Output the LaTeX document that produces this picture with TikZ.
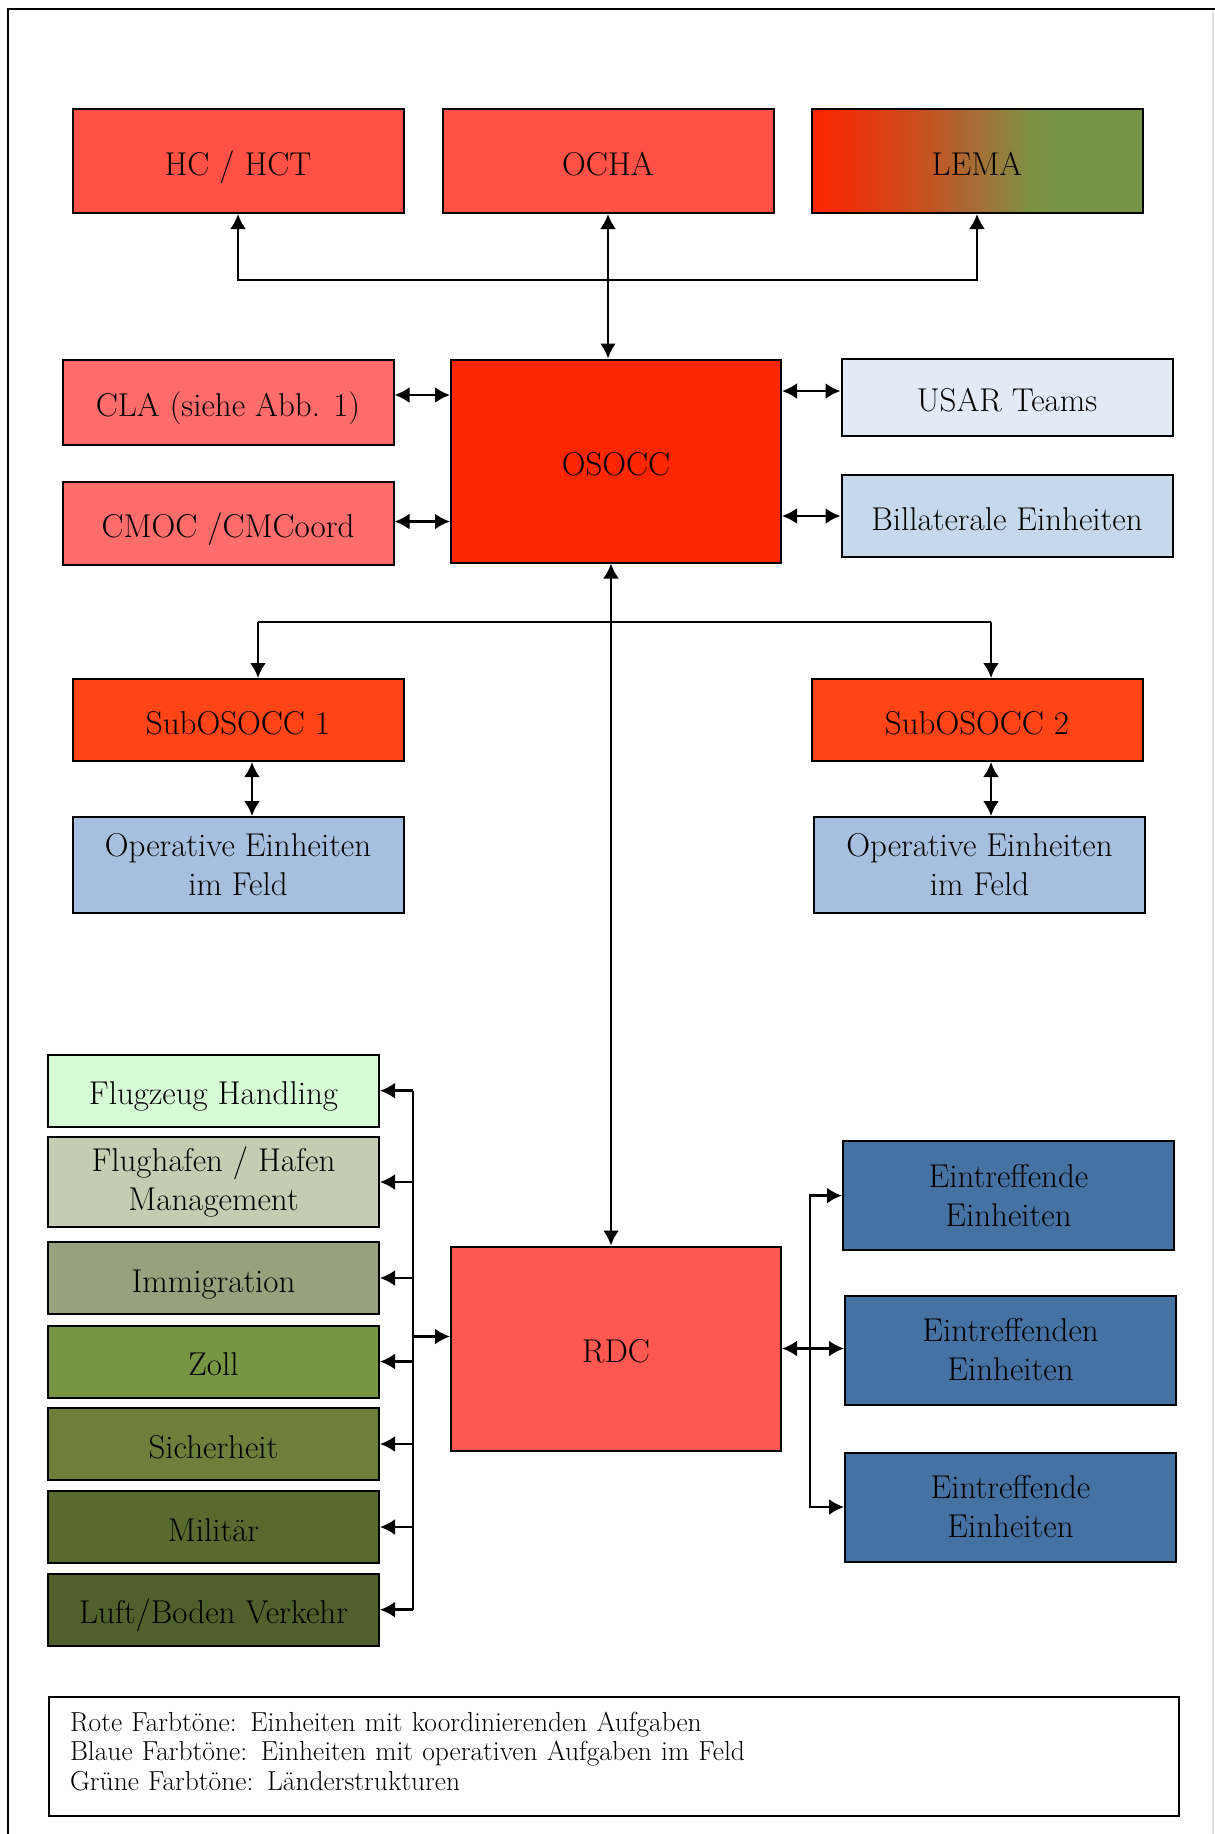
\documentclass[tikz,border=0pt]{standalone}
\usepackage{fontspec}
\usetikzlibrary{arrows.meta}

\definecolor{hcred}{RGB}{255,81,70}
\definecolor{osoccred}{RGB}{255,38,0}
\definecolor{clared}{RGB}{255,108,108}
\definecolor{subred}{RGB}{255,68,24}
\definecolor{rdcred}{RGB}{255,87,82}
\definecolor{usarblue}{RGB}{226,234,245}
\definecolor{bilatblue}{RGB}{198,216,236}
\definecolor{opblue}{RGB}{167,191,222}
\definecolor{einblue}{RGB}{70,114,163}
\definecolor{flugg}{RGB}{213,252,213}
\definecolor{hafeng}{RGB}{196,205,177}
\definecolor{immig}{RGB}{152,161,125}
\definecolor{zollg}{RGB}{120,149,68}
\definecolor{sichg}{RGB}{108,128,60}
\definecolor{milg}{RGB}{88,106,48}
\definecolor{luftg}{RGB}{80,96,44}
\definecolor{lemaA}{RGB}{255,36,0}
\definecolor{lemaB}{RGB}{235,50,10}
\definecolor{lemaC}{RGB}{200,80,30}
\definecolor{lemaM}{RGB}{165,110,55}
\definecolor{lemaE}{RGB}{125,145,68}
\definecolor{lemaD}{RGB}{119,147,69}

\pgfdeclarehorizontalshading{lemashade}{100bp}{color(0bp)=(lemaA); color(25bp)=(lemaA); color(31bp)=(lemaB); color(41.5bp)=(lemaC); color(50bp)=(lemaM); color(58bp)=(lemaE); color(63bp)=(lemaD); color(100bp)=(lemaD)}

\tikzset{
    box/.style={draw, rectangle, line width=2pt, minimum width=331pt, inner sep=0pt, align=center, font=\fontsize{33}{39}\selectfont},
    oneline/.style={box, text height=32pt, text depth=4pt},
    every path/.style={line width=2.6pt},
    >={Latex[length=15pt,width=16pt]}
}

\begin{document}
\begin{tikzpicture}[x=1pt, y=-1pt]
    \useasboundingbox (0,0) rectangle (1215,1834);
    % frame
    \draw[line width=2.6pt] (1215,9) -- (8,9) -- (8,1834);
    \draw[black!12, line width=1.5pt] (1213,12) -- (1213,1834);

    % coordination level
    \node[oneline, fill=hcred, minimum height=104pt] (hc) at (238,161) {HC / HCT};
    \node[oneline, fill=hcred, minimum height=104pt] (ocha) at (608,161) {OCHA};
    \node[oneline, shade, shading=lemashade, minimum height=104pt] (lema) at (977,161) {LEMA};

    \node[oneline, fill=osoccred, minimum width=330pt, minimum height=203pt] (osocc) at (616,461) {OSOCC};
    \node[oneline, fill=clared, minimum height=85pt] (cla) at (228,402) {CLA (siehe Abb. 1)};
    \node[oneline, fill=clared, minimum height=83pt] (cmoc) at (228,523.5) {CMOC /CMCoord};
    \node[oneline, fill=usarblue, minimum height=77pt] (usar) at (1007,397) {USAR Teams};
    \node[oneline, fill=bilatblue, minimum height=82pt] (bilat) at (1007,516) {Billaterale Einheiten};

    \node[oneline, fill=subred, minimum height=82pt] (sub1) at (238,720) {SubOSOCC 1};
    \node[oneline, fill=subred, minimum height=82pt] (sub2) at (977,720) {SubOSOCC 2};
    \node[box, fill=opblue, minimum height=96pt] (op1) at (238,865) {Operative Einheiten\\im Feld};
    \node[box, fill=opblue, minimum height=96pt] (op2) at (979.5,865) {Operative Einheiten\\im Feld};

    % RDC and its partners
    \node[oneline, fill=rdcred, minimum width=330pt, minimum height=204pt] (rdc) at (616,1348.5) {RDC};
    \node[oneline, fill=flugg, minimum height=72pt] (flug) at (213.5,1090.7) {Flugzeug Handling};
    \node[box, fill=hafeng, minimum height=90pt] (hafen) at (213.5,1182) {Flughafen / Hafen\\Management};
    \node[oneline, fill=immig, minimum height=72pt] (immi) at (213.5,1278) {Immigration};
    \node[oneline, fill=zollg, minimum height=72pt] (zoll) at (213.5,1361.5) {Zoll};
    \node[oneline, fill=sichg, minimum height=72pt] (sich) at (213.5,1444) {Sicherheit};
    \node[oneline, fill=milg, minimum height=72pt] (mil) at (213.5,1527) {Militär};
    \node[oneline, fill=luftg, minimum height=72pt] (luft) at (213.5,1609.7) {Luft/Boden Verkehr};
    \node[box, fill=einblue, minimum height=109pt] (ein1) at (1008.5,1195.6) {Eintreffende\\Einheiten};
    \node[box, fill=einblue, minimum height=109pt] (ein2) at (1010.5,1350) {Eintreffenden\\Einheiten};
    \node[box, fill=einblue, minimum height=109pt] (ein3) at (1010.5,1507) {Eintreffende\\Einheiten};

    % legend
    \node[draw, line width=2pt, anchor=north west, inner xsep=21pt, inner ysep=0pt, text width=1088pt, align=left, text height=34pt, text depth=85pt, font=\fontsize{27.5}{29.5}\selectfont] (legend) at (48,1696)
        {Rote Farbtöne: Einheiten mit koordinierenden Aufgaben\\
         Blaue Farbtöne: Einheiten mit operativen Aufgaben im Feld\\
         Grüne Farbtöne: Länderstrukturen};

    \coordinate (topjoin) at (608,280);
    \coordinate (subjoin) at (611,622);
    \coordinate (lbus) at (413,0);
    \coordinate (rbus) at (810,0);

    \draw[->] (topjoin) -| (hc.south);
    \draw[->] (topjoin) -| (lema.south);
    \draw[<->] (ocha.south) -- (osocc.north -| ocha.south);

    \draw[<->] ([yshift=7pt]cla.east) -- ([yshift=7pt]cla.east -| osocc.west);
    \draw[<->] ([yshift=2pt]cmoc.east) -- ([yshift=2pt]cmoc.east -| osocc.west);
    \draw[<->] ([yshift=6pt]usar.west) -- ([yshift=6pt]usar.west -| osocc.east);
    \draw[<->] (bilat.west) -- (bilat.west -| osocc.east);

    \draw[<->] (osocc.south -| subjoin) -- (rdc.north -| subjoin);
    \draw (subjoin -| sub1.north) ++(20,0) -- ([xshift=14pt]subjoin -| sub2.north);
    \draw[->] ([xshift=20pt]subjoin -| sub1.north) -- ([xshift=20pt]sub1.north);
    \draw[->] ([xshift=14pt]subjoin -| sub2.north) -- ([xshift=14pt]sub2.north);
    \draw[<->] ([xshift=14pt]sub1.south) -- ([xshift=14pt]sub1.south |- op1.north);
    \draw[<->] ([xshift=14pt]sub2.south) -- ([xshift=14pt]sub2.south |- op2.north);

    \draw (flug.east -| lbus) -- (luft.east -| lbus);
    \draw[->] (flug.east -| lbus) -- (flug.east);
    \draw[->] (hafen.east -| lbus) -- (hafen.east);
    \draw[->] (immi.east -| lbus) -- (immi.east);
    \draw[->] (zoll.east -| lbus) -- (zoll.east);
    \draw[->] (sich.east -| lbus) -- (sich.east);
    \draw[->] (mil.east -| lbus) -- (mil.east);
    \draw[->] (luft.east -| lbus) -- (luft.east);
    \draw[->] ([yshift=12pt]rdc.west -| lbus) -- ([yshift=12pt]rdc.west);

    \draw[<->] (ein1.west) -| (rbus |- rdc.east) |- (ein3.west);
    \draw[<->] (rdc.east) -- (rdc.east -| ein2.west);
\end{tikzpicture}
\end{document}
